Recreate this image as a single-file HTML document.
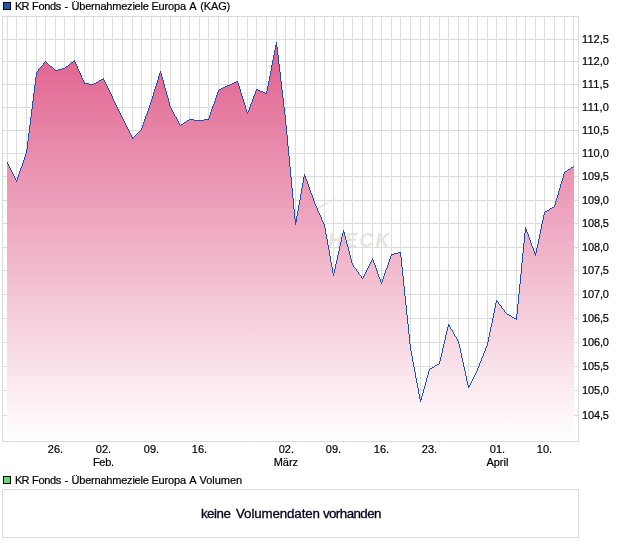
<!DOCTYPE html>
<html lang="de"><head><meta charset="utf-8"><title>KR Fonds - Übernahmeziele Europa A (KAG)</title>
<style>html,body{margin:0;padding:0;background:#fff}body{width:620px;height:546px;position:relative;overflow:hidden}</style></head>
<body>
<svg width="620" height="546" viewBox="0 0 620 546" style="position:absolute;left:0;top:0">
<defs><linearGradient id="g" x1="0" y1="16" x2="0" y2="440" gradientUnits="userSpaceOnUse"><stop offset="0" stop-color="#de5585"/><stop offset="1" stop-color="#ffffff"/></linearGradient></defs>
<text x="312.2" y="247" font-family="Liberation Sans, sans-serif" font-size="19.3" font-style="italic" font-weight="bold" letter-spacing="2.2" fill="#e9e3de">CHECK</text>
<path d="M316.8 210L341 195.6L318.6 206.4Z" fill="#e9e3de"/>
<path d="M7.5 17V441 M16.5 17V441 M26.5 17V441 M36.5 17V441 M45.5 17V441 M55.5 17V441 M64.5 17V441 M74.5 17V441 M84.5 17V441 M93.5 17V441 M103.5 17V441 M112.5 17V441 M122.5 17V441 M132.5 17V441 M141.5 17V441 M151.5 17V441 M160.5 17V441 M170.5 17V441 M180.5 17V441 M189.5 17V441 M199.5 17V441 M208.5 17V441 M218.5 17V441 M228.5 17V441 M237.5 17V441 M247.5 17V441 M256.5 17V441 M266.5 17V441 M276.5 17V441 M285.5 17V441 M295.5 17V441 M304.5 17V441 M314.5 17V441 M324.5 17V441 M333.5 17V441 M343.5 17V441 M352.5 17V441 M362.5 17V441 M372.5 17V441 M381.5 17V441 M391.5 17V441 M400.5 17V441 M410.5 17V441 M420.5 17V441 M429.5 17V441 M439.5 17V441 M448.5 17V441 M458.5 17V441 M468.5 17V441 M477.5 17V441 M487.5 17V441 M496.5 17V441 M506.5 17V441 M516.5 17V441 M525.5 17V441 M535.5 17V441 M544.5 17V441 M554.5 17V441 M564.5 17V441 M573.5 17V441 M3 39.5H578 M3 61.5H578 M3 84.5H578 M3 107.5H578 M3 130.5H578 M3 153.5H578 M3 176.5H578 M3 200.5H578 M3 223.5H578 M3 247.5H578 M3 270.5H578 M3 294.5H578 M3 318.5H578 M3 342.5H578 M3 366.5H578 M3 390.5H578 M3 415.5H578" stroke="#dcdcdc" stroke-width="1" fill="none" shape-rendering="crispEdges"/>
<path d="M7.5 442V443 M16.5 442V443 M26.5 442V443 M36.5 442V443 M45.5 442V443 M55.5 442V443 M64.5 442V443 M74.5 442V443 M84.5 442V443 M93.5 442V443 M103.5 442V443 M112.5 442V443 M122.5 442V443 M132.5 442V443 M141.5 442V443 M151.5 442V443 M160.5 442V443 M170.5 442V443 M180.5 442V443 M189.5 442V443 M199.5 442V443 M208.5 442V443 M218.5 442V443 M228.5 442V443 M237.5 442V443 M247.5 442V443 M256.5 442V443 M266.5 442V443 M276.5 442V443 M285.5 442V443 M295.5 442V443 M304.5 442V443 M314.5 442V443 M324.5 442V443 M333.5 442V443 M343.5 442V443 M352.5 442V443 M362.5 442V443 M372.5 442V443 M381.5 442V443 M391.5 442V443 M400.5 442V443 M410.5 442V443 M420.5 442V443 M429.5 442V443 M439.5 442V443 M448.5 442V443 M458.5 442V443 M468.5 442V443 M477.5 442V443 M487.5 442V443 M496.5 442V443 M506.5 442V443 M516.5 442V443 M525.5 442V443 M535.5 442V443 M544.5 442V443 M554.5 442V443 M564.5 442V443 M573.5 442V443" stroke="#eaeaea" stroke-width="1" fill="none" shape-rendering="crispEdges"/>
<path d="M7 441V162H8V164H9V166H10V168H11V170H12V172H13V174H14V176H15V178H16V180H17V177H18V174H19V171H20V168H21V166H22V163H23V160H24V157H25V154H26V149H27V141H28V133H29V125H30V117H31V109H32V101H33V93H34V85H35V77H36V72H37V71H38V69H39V68H40V67H41V66H42V65H43V63H44V62H45V61H46V62H47V63H48V64H49V65H50V66H52V67H53V68H54V69H55V70H58V69H62V68H65V67H66V66H68V65H69V64H70V63H71V62H73V61H74V60H75V62H76V64H77V66H78V69H79V71H80V73H81V75H82V78H83V80H84V82H85V83H89V84H94V83H96V82H98V81H99V80H101V79H103V78H104V80H105V82H106V84H107V86H108V88H109V90H110V92H111V94H112V96H113V99H114V101H115V103H116V105H117V107H118V109H119V111H120V113H121V115H122V117H123V119H124V121H125V123H126V125H127V127H128V129H129V131H130V133H131V135H132V137H134V136H135V135H136V134H137V133H138V132H139V131H140V130H141V128H142V125H143V122H144V119H145V116H146V114H147V111H148V108H149V105H150V102H151V99H152V96H153V92H154V89H155V86H156V83H157V80H158V76H159V73H160V71H161V73H162V77H163V80H164V84H165V88H166V91H167V95H168V98H169V102H170V106H171V108H172V110H173V112H174V114H175V116H176V117H177V119H178V121H179V123H180V125H181V124H183V123H184V122H186V121H187V120H189V119H194V120H204V119H208V118H209V115H210V112H211V109H212V106H213V104H214V101H215V98H216V95H217V92H218V90H219V89H221V88H223V87H225V86H227V85H230V84H232V83H234V82H236V81H238V83H239V86H240V89H241V93H242V96H243V99H244V102H245V105H246V109H247V112H248V110H249V107H250V104H251V102H252V99H253V96H254V94H255V91H256V89H258V90H260V91H263V92H265V93H266V91H267V86H268V81H269V76H270V71H271V65H272V60H273V55H274V50H275V45H276V42H277V47H278V55H279V64H280V72H281V81H282V90H283V98H284V107H285V115H286V125H287V135H288V146H289V156H290V167H291V177H292V188H293V198H294V209H295V219H296V216H297V211H298V205H299V200H300V194H301V188H302V183H303V177H304V174H305V176H306V179H307V181H308V184H309V187H310V190H311V193H312V195H313V198H314V201H315V204H316V206H317V208H318V211H319V213H320V215H321V217H322V220H323V222H324V224H325V228H326V234H327V239H328V245H329V250H330V256H331V262H332V267H333V273H334V269H335V264H336V260H337V255H338V251H339V246H340V242H341V237H342V233H343V230H344V232H345V236H346V240H347V244H348V247H349V251H350V255H351V259H352V263H353V265H354V267H355V268H356V269H357V271H358V272H359V274H360V275H361V276H362V278H363V276H364V274H365V272H366V270H367V268H368V266H369V264H370V262H371V260H372V258H373V260H374V263H375V265H376V268H377V271H378V274H379V277H380V279H381V282H382V279H383V276H384V273H385V270H386V268H387V265H388V262H389V259H390V256H391V254H394V253H398V252H401V257H402V267H403V276H404V286H405V296H406V305H407V315H408V324H409V334H410V344H411V351H412V356H413V362H414V367H415V372H416V378H417V383H418V388H419V394H420V399H421V396H422V393H423V389H424V386H425V382H426V378H427V375H428V371H429V369H430V368H432V367H434V366H435V365H437V364H439V361H440V357H441V353H442V348H443V344H444V340H445V335H446V331H447V327H448V324H449V325H450V327H451V329H452V330H453V332H454V334H455V336H456V337H457V339H458V341H459V344H460V348H461V353H462V358H463V362H464V367H465V371H466V376H467V381H468V385H470V383H471V381H472V379H473V377H474V375H475V373H476V371H477V368H478V366H479V363H480V361H481V358H482V356H483V353H484V351H485V348H486V346H487V342H488V337H489V332H490V327H491V323H492V318H493V313H494V308H495V303H496V300H497V301H498V302H499V304H500V305H501V306H502V308H503V309H504V310H505V312H506V313H507V314H509V315H511V316H512V317H514V318H516V314H517V304H518V294H519V284H520V274H521V263H522V253H523V243H524V233H525V227H526V229H527V232H528V234H529V237H530V240H531V243H532V246H533V248H534V251H535V253H536V248H537V244H538V239H539V234H540V229H541V224H542V220H543V215H544V212H545V211H547V210H549V209H550V208H552V207H554V205H555V201H556V198H557V195H558V191H559V188H560V184H561V181H562V178H563V174H564V172H565V171H567V170H568V169H570V168H571V167H573V166H574V441Z" fill="url(#g)" stroke="none" shape-rendering="crispEdges"/>
<path d="M7 162h1v2h-1zM8 164h1v2h-1zM9 166h1v2h-1zM10 168h1v2h-1zM11 170h1v2h-1zM12 172h1v2h-1zM13 174h1v2h-1zM14 176h1v2h-1zM15 178h1v2h-1zM16 180h1v2h-1zM17 177h1v3h-1zM18 174h1v3h-1zM19 171h1v3h-1zM20 168h1v3h-1zM21 166h1v2h-1zM22 163h1v3h-1zM23 160h1v3h-1zM24 157h1v3h-1zM25 154h1v3h-1zM26 149h1v5h-1zM27 141h1v8h-1zM28 133h1v8h-1zM29 125h1v8h-1zM30 117h1v8h-1zM31 109h1v8h-1zM32 101h1v8h-1zM33 93h1v8h-1zM34 85h1v8h-1zM35 77h1v8h-1zM36 72h1v5h-1zM37 71h1v1h-1zM38 69h1v2h-1zM39 68h1v1h-1zM40 67h1v1h-1zM41 66h1v1h-1zM42 65h1v1h-1zM43 63h1v2h-1zM44 62h1v1h-1zM45 61h1v1h-1zM46 62h1v1h-1zM47 63h1v1h-1zM48 64h1v1h-1zM49 65h1v1h-1zM50 66h1v1h-1zM51 66h1v1h-1zM52 67h1v1h-1zM53 68h1v1h-1zM54 69h1v1h-1zM55 70h1v1h-1zM56 70h1v1h-1zM57 70h1v1h-1zM58 69h1v1h-1zM59 69h1v1h-1zM60 69h1v1h-1zM61 69h1v1h-1zM62 68h1v1h-1zM63 68h1v1h-1zM64 68h1v1h-1zM65 67h1v1h-1zM66 66h1v1h-1zM67 66h1v1h-1zM68 65h1v1h-1zM69 64h1v1h-1zM70 63h1v1h-1zM71 62h1v1h-1zM72 62h1v1h-1zM73 61h1v1h-1zM74 60h1v2h-1zM75 62h1v2h-1zM76 64h1v2h-1zM77 66h1v3h-1zM78 69h1v2h-1zM79 71h1v2h-1zM80 73h1v2h-1zM81 75h1v3h-1zM82 78h1v2h-1zM83 80h1v2h-1zM84 82h1v2h-1zM85 83h1v1h-1zM86 83h1v1h-1zM87 83h1v1h-1zM88 83h1v1h-1zM89 84h1v1h-1zM90 84h1v1h-1zM91 84h1v1h-1zM92 84h1v1h-1zM93 84h1v1h-1zM94 83h1v1h-1zM95 83h1v1h-1zM96 82h1v1h-1zM97 82h1v1h-1zM98 81h1v1h-1zM99 80h1v1h-1zM100 80h1v1h-1zM101 79h1v1h-1zM102 79h1v1h-1zM103 78h1v2h-1zM104 80h1v2h-1zM105 82h1v2h-1zM106 84h1v2h-1zM107 86h1v2h-1zM108 88h1v2h-1zM109 90h1v2h-1zM110 92h1v2h-1zM111 94h1v2h-1zM112 96h1v3h-1zM113 99h1v2h-1zM114 101h1v2h-1zM115 103h1v2h-1zM116 105h1v2h-1zM117 107h1v2h-1zM118 109h1v2h-1zM119 111h1v2h-1zM120 113h1v2h-1zM121 115h1v2h-1zM122 117h1v2h-1zM123 119h1v2h-1zM124 121h1v2h-1zM125 123h1v2h-1zM126 125h1v2h-1zM127 127h1v2h-1zM128 129h1v2h-1zM129 131h1v2h-1zM130 133h1v2h-1zM131 135h1v2h-1zM132 137h1v2h-1zM133 137h1v1h-1zM134 136h1v1h-1zM135 135h1v1h-1zM136 134h1v1h-1zM137 133h1v1h-1zM138 132h1v1h-1zM139 131h1v1h-1zM140 130h1v1h-1zM141 128h1v2h-1zM142 125h1v3h-1zM143 122h1v3h-1zM144 119h1v3h-1zM145 116h1v3h-1zM146 114h1v2h-1zM147 111h1v3h-1zM148 108h1v3h-1zM149 105h1v3h-1zM150 102h1v3h-1zM151 99h1v3h-1zM152 96h1v3h-1zM153 92h1v4h-1zM154 89h1v3h-1zM155 86h1v3h-1zM156 83h1v3h-1zM157 80h1v3h-1zM158 76h1v4h-1zM159 73h1v3h-1zM160 71h1v2h-1zM161 73h1v4h-1zM162 77h1v3h-1zM163 80h1v4h-1zM164 84h1v4h-1zM165 88h1v3h-1zM166 91h1v4h-1zM167 95h1v3h-1zM168 98h1v4h-1zM169 102h1v4h-1zM170 106h1v2h-1zM171 108h1v2h-1zM172 110h1v2h-1zM173 112h1v2h-1zM174 114h1v2h-1zM175 116h1v1h-1zM176 117h1v2h-1zM177 119h1v2h-1zM178 121h1v2h-1zM179 123h1v2h-1zM180 125h1v1h-1zM181 124h1v1h-1zM182 124h1v1h-1zM183 123h1v1h-1zM184 122h1v1h-1zM185 122h1v1h-1zM186 121h1v1h-1zM187 120h1v1h-1zM188 120h1v1h-1zM189 119h1v1h-1zM190 119h1v1h-1zM191 119h1v1h-1zM192 119h1v1h-1zM193 119h1v1h-1zM194 120h1v1h-1zM195 120h1v1h-1zM196 120h1v1h-1zM197 120h1v1h-1zM198 120h1v1h-1zM199 120h1v1h-1zM200 120h1v1h-1zM201 120h1v1h-1zM202 120h1v1h-1zM203 120h1v1h-1zM204 119h1v1h-1zM205 119h1v1h-1zM206 119h1v1h-1zM207 119h1v1h-1zM208 118h1v2h-1zM209 115h1v3h-1zM210 112h1v3h-1zM211 109h1v3h-1zM212 106h1v3h-1zM213 104h1v2h-1zM214 101h1v3h-1zM215 98h1v3h-1zM216 95h1v3h-1zM217 92h1v3h-1zM218 90h1v2h-1zM219 89h1v1h-1zM220 89h1v1h-1zM221 88h1v1h-1zM222 88h1v1h-1zM223 87h1v1h-1zM224 87h1v1h-1zM225 86h1v1h-1zM226 86h1v1h-1zM227 85h1v1h-1zM228 85h1v1h-1zM229 85h1v1h-1zM230 84h1v1h-1zM231 84h1v1h-1zM232 83h1v1h-1zM233 83h1v1h-1zM234 82h1v1h-1zM235 82h1v1h-1zM236 81h1v1h-1zM237 81h1v2h-1zM238 83h1v3h-1zM239 86h1v3h-1zM240 89h1v4h-1zM241 93h1v3h-1zM242 96h1v3h-1zM243 99h1v3h-1zM244 102h1v3h-1zM245 105h1v4h-1zM246 109h1v3h-1zM247 112h1v2h-1zM248 110h1v2h-1zM249 107h1v3h-1zM250 104h1v3h-1zM251 102h1v2h-1zM252 99h1v3h-1zM253 96h1v3h-1zM254 94h1v2h-1zM255 91h1v3h-1zM256 89h1v2h-1zM257 89h1v1h-1zM258 90h1v1h-1zM259 90h1v1h-1zM260 91h1v1h-1zM261 91h1v1h-1zM262 91h1v1h-1zM263 92h1v1h-1zM264 92h1v1h-1zM265 93h1v1h-1zM266 91h1v3h-1zM267 86h1v5h-1zM268 81h1v5h-1zM269 76h1v5h-1zM270 71h1v5h-1zM271 65h1v6h-1zM272 60h1v5h-1zM273 55h1v5h-1zM274 50h1v5h-1zM275 45h1v5h-1zM276 42h1v5h-1zM277 47h1v8h-1zM278 55h1v9h-1zM279 64h1v8h-1zM280 72h1v9h-1zM281 81h1v9h-1zM282 90h1v8h-1zM283 98h1v9h-1zM284 107h1v8h-1zM285 115h1v10h-1zM286 125h1v10h-1zM287 135h1v11h-1zM288 146h1v10h-1zM289 156h1v11h-1zM290 167h1v10h-1zM291 177h1v11h-1zM292 188h1v10h-1zM293 198h1v11h-1zM294 209h1v10h-1zM295 219h1v6h-1zM296 216h1v6h-1zM297 211h1v5h-1zM298 205h1v6h-1zM299 200h1v5h-1zM300 194h1v6h-1zM301 188h1v6h-1zM302 183h1v5h-1zM303 177h1v6h-1zM304 174h1v3h-1zM305 176h1v3h-1zM306 179h1v2h-1zM307 181h1v3h-1zM308 184h1v3h-1zM309 187h1v3h-1zM310 190h1v3h-1zM311 193h1v2h-1zM312 195h1v3h-1zM313 198h1v3h-1zM314 201h1v3h-1zM315 204h1v2h-1zM316 206h1v2h-1zM317 208h1v3h-1zM318 211h1v2h-1zM319 213h1v2h-1zM320 215h1v2h-1zM321 217h1v3h-1zM322 220h1v2h-1zM323 222h1v2h-1zM324 224h1v4h-1zM325 228h1v6h-1zM326 234h1v5h-1zM327 239h1v6h-1zM328 245h1v5h-1zM329 250h1v6h-1zM330 256h1v6h-1zM331 262h1v5h-1zM332 267h1v6h-1zM333 273h1v3h-1zM334 269h1v4h-1zM335 264h1v5h-1zM336 260h1v4h-1zM337 255h1v5h-1zM338 251h1v4h-1zM339 246h1v5h-1zM340 242h1v4h-1zM341 237h1v5h-1zM342 233h1v4h-1zM343 230h1v3h-1zM344 232h1v4h-1zM345 236h1v4h-1zM346 240h1v4h-1zM347 244h1v3h-1zM348 247h1v4h-1zM349 251h1v4h-1zM350 255h1v4h-1zM351 259h1v4h-1zM352 263h1v2h-1zM353 265h1v2h-1zM354 267h1v1h-1zM355 268h1v1h-1zM356 269h1v2h-1zM357 271h1v1h-1zM358 272h1v2h-1zM359 274h1v1h-1zM360 275h1v1h-1zM361 276h1v2h-1zM362 278h1v1h-1zM363 276h1v2h-1zM364 274h1v2h-1zM365 272h1v2h-1zM366 270h1v2h-1zM367 268h1v2h-1zM368 266h1v2h-1zM369 264h1v2h-1zM370 262h1v2h-1zM371 260h1v2h-1zM372 258h1v2h-1zM373 260h1v3h-1zM374 263h1v2h-1zM375 265h1v3h-1zM376 268h1v3h-1zM377 271h1v3h-1zM378 274h1v3h-1zM379 277h1v2h-1zM380 279h1v3h-1zM381 282h1v2h-1zM382 279h1v3h-1zM383 276h1v3h-1zM384 273h1v3h-1zM385 270h1v3h-1zM386 268h1v2h-1zM387 265h1v3h-1zM388 262h1v3h-1zM389 259h1v3h-1zM390 256h1v3h-1zM391 254h1v2h-1zM392 254h1v1h-1zM393 254h1v1h-1zM394 253h1v1h-1zM395 253h1v1h-1zM396 253h1v1h-1zM397 253h1v1h-1zM398 252h1v1h-1zM399 252h1v1h-1zM400 252h1v5h-1zM401 257h1v10h-1zM402 267h1v9h-1zM403 276h1v10h-1zM404 286h1v10h-1zM405 296h1v9h-1zM406 305h1v10h-1zM407 315h1v9h-1zM408 324h1v10h-1zM409 334h1v10h-1zM410 344h1v7h-1zM411 351h1v5h-1zM412 356h1v6h-1zM413 362h1v5h-1zM414 367h1v5h-1zM415 372h1v6h-1zM416 378h1v5h-1zM417 383h1v5h-1zM418 388h1v6h-1zM419 394h1v5h-1zM420 399h1v3h-1zM421 396h1v4h-1zM422 393h1v3h-1zM423 389h1v4h-1zM424 386h1v3h-1zM425 382h1v4h-1zM426 378h1v4h-1zM427 375h1v3h-1zM428 371h1v4h-1zM429 369h1v2h-1zM430 368h1v1h-1zM431 368h1v1h-1zM432 367h1v1h-1zM433 367h1v1h-1zM434 366h1v1h-1zM435 365h1v1h-1zM436 365h1v1h-1zM437 364h1v1h-1zM438 364h1v1h-1zM439 361h1v3h-1zM440 357h1v4h-1zM441 353h1v4h-1zM442 348h1v5h-1zM443 344h1v4h-1zM444 340h1v4h-1zM445 335h1v5h-1zM446 331h1v4h-1zM447 327h1v4h-1zM448 324h1v3h-1zM449 325h1v2h-1zM450 327h1v2h-1zM451 329h1v1h-1zM452 330h1v2h-1zM453 332h1v2h-1zM454 334h1v2h-1zM455 336h1v1h-1zM456 337h1v2h-1zM457 339h1v2h-1zM458 341h1v3h-1zM459 344h1v4h-1zM460 348h1v5h-1zM461 353h1v5h-1zM462 358h1v4h-1zM463 362h1v5h-1zM464 367h1v4h-1zM465 371h1v5h-1zM466 376h1v5h-1zM467 381h1v4h-1zM468 385h1v3h-1zM469 385h1v2h-1zM470 383h1v2h-1zM471 381h1v2h-1zM472 379h1v2h-1zM473 377h1v2h-1zM474 375h1v2h-1zM475 373h1v2h-1zM476 371h1v2h-1zM477 368h1v3h-1zM478 366h1v2h-1zM479 363h1v3h-1zM480 361h1v2h-1zM481 358h1v3h-1zM482 356h1v2h-1zM483 353h1v3h-1zM484 351h1v2h-1zM485 348h1v3h-1zM486 346h1v2h-1zM487 342h1v4h-1zM488 337h1v5h-1zM489 332h1v5h-1zM490 327h1v5h-1zM491 323h1v4h-1zM492 318h1v5h-1zM493 313h1v5h-1zM494 308h1v5h-1zM495 303h1v5h-1zM496 300h1v3h-1zM497 301h1v1h-1zM498 302h1v2h-1zM499 304h1v1h-1zM500 305h1v1h-1zM501 306h1v2h-1zM502 308h1v1h-1zM503 309h1v1h-1zM504 310h1v2h-1zM505 312h1v1h-1zM506 313h1v1h-1zM507 314h1v1h-1zM508 314h1v1h-1zM509 315h1v1h-1zM510 315h1v1h-1zM511 316h1v1h-1zM512 317h1v1h-1zM513 317h1v1h-1zM514 318h1v1h-1zM515 318h1v1h-1zM516 314h1v6h-1zM517 304h1v10h-1zM518 294h1v10h-1zM519 284h1v10h-1zM520 274h1v10h-1zM521 263h1v11h-1zM522 253h1v10h-1zM523 243h1v10h-1zM524 233h1v10h-1zM525 227h1v6h-1zM526 229h1v3h-1zM527 232h1v2h-1zM528 234h1v3h-1zM529 237h1v3h-1zM530 240h1v3h-1zM531 243h1v3h-1zM532 246h1v2h-1zM533 248h1v3h-1zM534 251h1v3h-1zM535 253h1v3h-1zM536 248h1v5h-1zM537 244h1v4h-1zM538 239h1v5h-1zM539 234h1v5h-1zM540 229h1v5h-1zM541 224h1v5h-1zM542 220h1v4h-1zM543 215h1v5h-1zM544 212h1v3h-1zM545 211h1v1h-1zM546 211h1v1h-1zM547 210h1v1h-1zM548 210h1v1h-1zM549 209h1v1h-1zM550 208h1v1h-1zM551 208h1v1h-1zM552 207h1v1h-1zM553 207h1v1h-1zM554 205h1v2h-1zM555 201h1v4h-1zM556 198h1v3h-1zM557 195h1v3h-1zM558 191h1v4h-1zM559 188h1v3h-1zM560 184h1v4h-1zM561 181h1v3h-1zM562 178h1v3h-1zM563 174h1v4h-1zM564 172h1v2h-1zM565 171h1v1h-1zM566 171h1v1h-1zM567 170h1v1h-1zM568 169h1v1h-1zM569 169h1v1h-1zM570 168h1v1h-1zM571 167h1v1h-1zM572 167h1v1h-1zM573 166h1v1h-1z" fill="#1a4fb4" stroke="none" shape-rendering="crispEdges"/>
<rect x="2.5" y="16.5" width="576" height="425" fill="none" stroke="#dadada" shape-rendering="crispEdges"/>
<rect x="2.5" y="489.5" width="576" height="48" fill="none" stroke="#dadada" shape-rendering="crispEdges"/>
<rect x="3.5" y="2.5" width="7" height="7" fill="#1c56b8" stroke="#000" shape-rendering="crispEdges"/>
<rect x="3.5" y="476.5" width="7" height="7" fill="#66d966" stroke="#000" shape-rendering="crispEdges"/>
<text y="9.8" font-family="Liberation Sans, sans-serif" font-size="11" fill="#000" stroke="#000" stroke-width="0.2"><tspan x="14.9" textLength="14.5">KR</tspan> <tspan x="32.1" textLength="29.2">Fonds</tspan> <tspan x="64.6">-</tspan> <tspan x="71.6" textLength="77.25">Übernahmeziele</tspan> <tspan x="151.4" textLength="34.8">Europa</tspan> <tspan x="189.2">A</tspan> <tspan x="200.3" textLength="29.9">(KAG)</tspan></text>
<text y="483.8" font-family="Liberation Sans, sans-serif" font-size="11" fill="#000" stroke="#000" stroke-width="0.2"><tspan x="14.9" textLength="14.5">KR</tspan> <tspan x="32.1" textLength="29.2">Fonds</tspan> <tspan x="64.6">-</tspan> <tspan x="71.6" textLength="77.25">Übernahmeziele</tspan> <tspan x="151.4" textLength="34.8">Europa</tspan> <tspan x="189.2">A</tspan> <tspan x="199.5" textLength="42.6">Volumen</tspan></text>
<text x="582.1" y="42.8" textLength="26.8" font-family="Liberation Sans, sans-serif" font-size="11" fill="#000" stroke="#000" stroke-width="0.2">112,5</text>
<text x="582.1" y="64.8" textLength="26.8" font-family="Liberation Sans, sans-serif" font-size="11" fill="#000" stroke="#000" stroke-width="0.2">112,0</text>
<text x="582.1" y="87.8" textLength="26.8" font-family="Liberation Sans, sans-serif" font-size="11" fill="#000" stroke="#000" stroke-width="0.2">111,5</text>
<text x="582.1" y="110.8" textLength="26.8" font-family="Liberation Sans, sans-serif" font-size="11" fill="#000" stroke="#000" stroke-width="0.2">111,0</text>
<text x="582.1" y="133.8" textLength="26.8" font-family="Liberation Sans, sans-serif" font-size="11" fill="#000" stroke="#000" stroke-width="0.2">110,5</text>
<text x="582.1" y="156.8" textLength="26.8" font-family="Liberation Sans, sans-serif" font-size="11" fill="#000" stroke="#000" stroke-width="0.2">110,0</text>
<text x="582.1" y="179.8" textLength="26.8" font-family="Liberation Sans, sans-serif" font-size="11" fill="#000" stroke="#000" stroke-width="0.2">109,5</text>
<text x="582.1" y="203.8" textLength="26.8" font-family="Liberation Sans, sans-serif" font-size="11" fill="#000" stroke="#000" stroke-width="0.2">109,0</text>
<text x="582.1" y="226.8" textLength="26.8" font-family="Liberation Sans, sans-serif" font-size="11" fill="#000" stroke="#000" stroke-width="0.2">108,5</text>
<text x="582.1" y="250.8" textLength="26.8" font-family="Liberation Sans, sans-serif" font-size="11" fill="#000" stroke="#000" stroke-width="0.2">108,0</text>
<text x="582.1" y="273.8" textLength="26.8" font-family="Liberation Sans, sans-serif" font-size="11" fill="#000" stroke="#000" stroke-width="0.2">107,5</text>
<text x="582.1" y="297.8" textLength="26.8" font-family="Liberation Sans, sans-serif" font-size="11" fill="#000" stroke="#000" stroke-width="0.2">107,0</text>
<text x="582.1" y="321.8" textLength="26.8" font-family="Liberation Sans, sans-serif" font-size="11" fill="#000" stroke="#000" stroke-width="0.2">106,5</text>
<text x="582.1" y="345.8" textLength="26.8" font-family="Liberation Sans, sans-serif" font-size="11" fill="#000" stroke="#000" stroke-width="0.2">106,0</text>
<text x="582.1" y="369.8" textLength="26.8" font-family="Liberation Sans, sans-serif" font-size="11" fill="#000" stroke="#000" stroke-width="0.2">105,5</text>
<text x="582.1" y="393.8" textLength="26.8" font-family="Liberation Sans, sans-serif" font-size="11" fill="#000" stroke="#000" stroke-width="0.2">105,0</text>
<text x="582.1" y="418.8" textLength="26.8" font-family="Liberation Sans, sans-serif" font-size="11" fill="#000" stroke="#000" stroke-width="0.2">104,5</text>
<text x="55.5" y="453" text-anchor="middle" font-family="Liberation Sans, sans-serif" font-size="11" fill="#000" stroke="#000" stroke-width="0.2">26.</text>
<text x="103.5" y="453" text-anchor="middle" font-family="Liberation Sans, sans-serif" font-size="11" fill="#000" stroke="#000" stroke-width="0.2">02.</text>
<text x="103.5" y="466" text-anchor="middle" textLength="21.2" font-family="Liberation Sans, sans-serif" font-size="11" fill="#000" stroke="#000" stroke-width="0.2">Feb.</text>
<text x="151.5" y="453" text-anchor="middle" font-family="Liberation Sans, sans-serif" font-size="11" fill="#000" stroke="#000" stroke-width="0.2">09.</text>
<text x="199.5" y="453" text-anchor="middle" font-family="Liberation Sans, sans-serif" font-size="11" fill="#000" stroke="#000" stroke-width="0.2">16.</text>
<text x="286.4" y="453" text-anchor="middle" font-family="Liberation Sans, sans-serif" font-size="11" fill="#000" stroke="#000" stroke-width="0.2">02.</text>
<text x="285.9" y="466" text-anchor="middle" font-family="Liberation Sans, sans-serif" font-size="11" fill="#000" stroke="#000" stroke-width="0.2">März</text>
<text x="333.5" y="453" text-anchor="middle" font-family="Liberation Sans, sans-serif" font-size="11" fill="#000" stroke="#000" stroke-width="0.2">09.</text>
<text x="381.5" y="453" text-anchor="middle" font-family="Liberation Sans, sans-serif" font-size="11" fill="#000" stroke="#000" stroke-width="0.2">16.</text>
<text x="429.5" y="453" text-anchor="middle" font-family="Liberation Sans, sans-serif" font-size="11" fill="#000" stroke="#000" stroke-width="0.2">23.</text>
<text x="497.5" y="453" text-anchor="middle" font-family="Liberation Sans, sans-serif" font-size="11" fill="#000" stroke="#000" stroke-width="0.2">01.</text>
<text x="497.4" y="466" text-anchor="middle" font-family="Liberation Sans, sans-serif" font-size="11" fill="#000" stroke="#000" stroke-width="0.2">April</text>
<text x="544.5" y="453" text-anchor="middle" font-family="Liberation Sans, sans-serif" font-size="11" fill="#000" stroke="#000" stroke-width="0.2">10.</text>
<text y="517.7" font-family="Liberation Sans, sans-serif" font-size="13.33" fill="#02021e" stroke="#02021e" stroke-width="0.3"><tspan x="200.9" textLength="29.9">keine</tspan> <tspan x="236.1" textLength="83.8">Volumendaten</tspan> <tspan x="322.9" textLength="58.6">vorhanden</tspan></text>
</svg>
</body></html>
